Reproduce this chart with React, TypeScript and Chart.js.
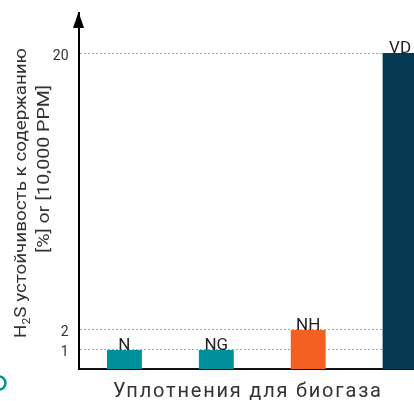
import React, { useEffect, useRef } from 'react';
import { Chart, registerables, LinearScale } from 'chart.js';

Chart.register(...registerables);

const categories = ['N', 'NG', 'NH', 'VD'];
const values = [1, 1, 2, 20];
const barColors = ['#00909B', '#00909B', '#F26122', '#053A52'];
const yTicks = [1, 2, 20];
const yTitleLine1 = ['H', '2', 'S устойчивость к содержанию'];
const yTitleLine2 = '[%] or [10,000 PPM]';
const xTitle = 'Уплотнения для биогаза';

// non-uniform value axis: [value, fraction of plot height]
const scaleKnots: [number, number][] = [[0, 0], [1, 0.0534], [2, 0.1096], [20, 0.8876], [22.6, 1]];

class KnotScale extends LinearScale {
  static id = 'knot';
  static defaults = LinearScale.defaults;
  frac(v: number) {
    const k = scaleKnots;
    if (v <= k[0][0]) return k[0][1];
    for (let i = 1; i < k.length; i++) {
      if (v <= k[i][0]) {
        const [v0, f0] = k[i - 1];
        const [v1, f1] = k[i];
        return f0 + ((v - v0) / (v1 - v0)) * (f1 - f0);
      }
    }
    const [v0, f0] = k[k.length - 2];
    const [v1, f1] = k[k.length - 1];
    return f1 + ((v - v1) / (v1 - v0)) * (f1 - f0);
  }
  getPixelForValue(value: number) {
    const f = this.frac(value);
    return this.bottom - f * (this.bottom - this.top);
  }
  getValueForPixel(pixel: number) {
    const f = (this.bottom - pixel) / (this.bottom - this.top);
    const k = scaleKnots;
    for (let i = 1; i < k.length; i++) {
      if (f <= k[i][1]) {
        const [v0, f0] = k[i - 1];
        const [v1, f1] = k[i];
        return v0 + ((f - f0) / (f1 - f0)) * (v1 - v0);
      }
    }
    return k[k.length - 1][0];
  }
}
Chart.register(KnotScale);

const FONT = 'Roboto, "Noto Sans", sans-serif';

const decorPlugin = {
  id: 'decor',
  afterDraw(chart: any) {
    const ctx = chart.ctx as CanvasRenderingContext2D;
    const area = chart.chartArea;
    ctx.save();
    // arrow on y axis
    const ax = Math.round(area.left - 0.5) + 0.5;
    ctx.fillStyle = '#000';
    ctx.beginPath();
    ctx.moveTo(ax, area.top - 1);
    ctx.lineTo(ax - 5.5, area.top + 15);
    ctx.lineTo(ax + 5.5, area.top + 15);
    ctx.closePath();
    ctx.fill();

    // bar labels
    const meta = chart.getDatasetMeta(0);
    ctx.fillStyle = '#222';
    ctx.font = `17px ${FONT}`;
    ctx.textAlign = 'center';
    ctx.textBaseline = 'alphabetic';
    meta.data.forEach((el: any, i: number) => {
      ctx.fillText(categories[i], el.x, el.y);
    });

    // y title
    ctx.fillStyle = '#333';
    ctx.textAlign = 'left';
    const f1 = `17px ${FONT}`;
    const fsub = `11px ${FONT}`;
    ctx.font = f1;
    const wH = ctx.measureText(yTitleLine1[0]).width;
    const wRest = ctx.measureText(yTitleLine1[2]).width;
    ctx.font = fsub;
    const wSub = ctx.measureText(yTitleLine1[1]).width;
    const natural1 = wH + wSub + wRest;
    const sx1 = 290 / natural1;
    ctx.save();
    ctx.translate(25.5, 338);
    ctx.rotate(-Math.PI / 2);
    ctx.scale(sx1, 1);
    ctx.font = f1;
    ctx.fillText(yTitleLine1[0], 0, 0);
    ctx.font = fsub;
    ctx.fillText(yTitleLine1[1], wH, 4);
    ctx.font = f1;
    ctx.fillText(yTitleLine1[2], wH + wSub, 0);
    ctx.restore();

    ctx.font = f1;
    const natural2 = ctx.measureText(yTitleLine2).width;
    const sx2 = 168 / natural2;
    ctx.save();
    ctx.translate(49, 253);
    ctx.rotate(-Math.PI / 2);
    ctx.scale(sx2, 1);
    ctx.fillText(yTitleLine2, 0, 0);
    ctx.restore();

    // x title
    ctx.font = `20px ${FONT}`;
    const wx = ctx.measureText(xTitle).width;
    const n = xTitle.length;
    const spacing = Math.max(0, (268 - wx) / (n - 1));
    ctx.save();
    (ctx as any).letterSpacing = `${spacing}px`;
    ctx.textAlign = 'left';
    ctx.fillText(xTitle, 113, 397);
    ctx.restore();

    // partial ring at the left edge
    ctx.strokeStyle = '#00909B';
    ctx.lineWidth = 2.5;
    ctx.beginPath();
    ctx.arc(-1, 383, 6.5, 0, Math.PI * 2);
    ctx.stroke();
    ctx.restore();
  },
};

export default function App() {
  const ref = useRef<HTMLCanvasElement>(null);
  useEffect(() => {
    if (!ref.current) return;
    const chart = new Chart(ref.current, {
      type: 'bar',
      data: {
        labels: categories,
        datasets: [
          {
            data: values,
            backgroundColor: barColors,
            borderWidth: 0,
            barPercentage: 0.38,
            categoryPercentage: 1,
          },
        ],
      },
      options: {
        responsive: false,
        maintainAspectRatio: false,
        animation: false,
        events: [],
        layout: { padding: { top: 13, left: 0, right: 0, bottom: 0 } },
        plugins: { legend: { display: false }, tooltip: { enabled: false } },
        scales: {
          x: {
            type: 'category',
            offset: true,
            grid: { display: false, drawTicks: false },
            border: { display: true, color: '#111', width: 2 },
            ticks: { display: false },
            afterFit: (s: any) => {
              s.height = 32;
              s.paddingLeft = 0;
              s.paddingRight = 0;
            },
          },
          y: {
            type: 'knot' as any,
            min: 0,
            max: 22.6,
            grid: { color: '#aaa', lineWidth: 1, drawTicks: false },
            border: { display: true, color: '#000', width: 2, dash: [2, 2] },
            ticks: {
              autoSkip: false,
              padding: 10,
              labelOffset: 3,
              color: '#333',
              font: { family: FONT, size: 14 },
            },
            afterBuildTicks: (s: any) => {
              s.ticks = yTicks.map((v) => ({ value: v }));
            },
            afterFit: (s: any) => {
              s.width = 78.5;
              s.paddingTop = 0;
              s.paddingBottom = 0;
            },
          },
        },
      },
      plugins: [decorPlugin],
    } as any);
    return () => chart.destroy();
  }, []);
  return (
    <div
      style={{
        position: 'fixed',
        left: 0,
        top: 0,
        width: 414,
        height: 401,
        overflow: 'hidden',
        background: '#fff',
      }}
    >
      <canvas ref={ref} width={446} height={401} style={{ display: 'block' }} />
    </div>
  );
}
